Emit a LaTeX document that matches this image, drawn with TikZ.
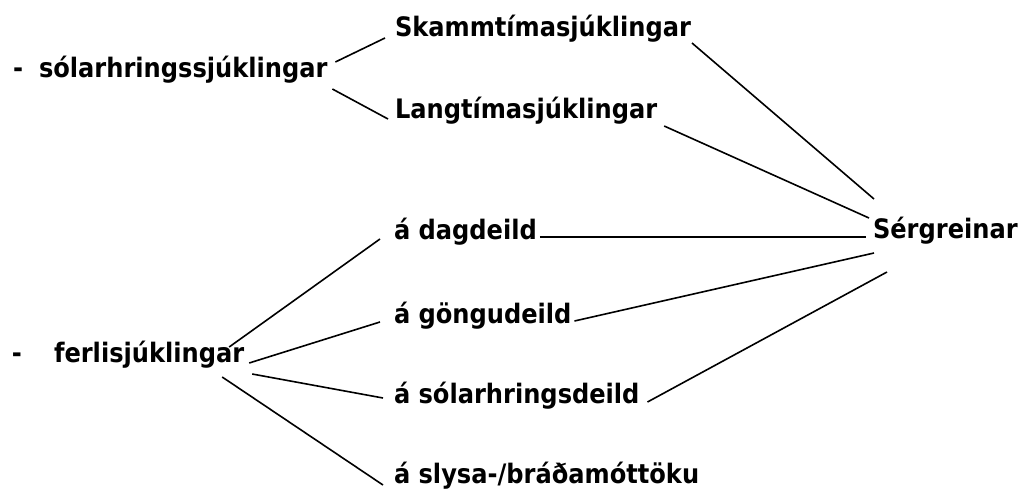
\documentclass[tikz,border=0pt]{standalone}
\usepackage{fontspec}
\newfontfamily\labelfont{DejaVu Sans Condensed}
\usetikzlibrary{calc}

\begin{document}
\begin{tikzpicture}[x=1pt,y=-1pt,
  lbl/.style={anchor=base west,inner sep=0pt,outer sep=0pt,
              font=\labelfont\bfseries\fontsize{26.8}{30}\selectfont},
  link/.style={draw=black,line width=1.6pt}]
  \useasboundingbox (0,0) rectangle (1026,490);

  % patient groups
  \node[lbl] (S)  at (13,77)  {-\hspace{16pt}sólarhringssjúklingar};
  \node[lbl] (F)  at (12,362) {-\hspace{32pt}ferlisjúklingar};

  % inpatient branches
  \node[lbl] (Sk) at (395,36)  {Skammtímasjúklingar};
  \node[lbl] (La) at (395,118) {Langtímasjúklingar};

  % outpatient branches
  \node[lbl] (D)  at (394,239) {á dagdeild};
  \node[lbl] (G)  at (394,323) {á göngudeild};
  \node[lbl] (So) at (394,403) {á sólarhringsdeild};
  \node[lbl] (Sl) at (394,483) {á slysa-/bráðamóttöku};

  % specialities
  \node[lbl] (Se) at (873,238) {Sérgreinar};

  % connectors
  \draw[link] ($(S.base east)+(8,-15)$)  -- ($(Sk.base west)+(-10,2)$);
  \draw[link] ($(S.base east)+(5,12)$)   -- ($(La.base west)+(-7,1)$);

  \draw[link] ($(Sk.base east)+(1,7)$)   -- ($(Se.base west)+(1,-39)$);
  \draw[link] ($(La.base east)+(7,8)$)   -- ($(Se.base west)+(-4,-20)$);
  \draw[link] ($(D.base east)+(3,-2)$)   -- ($(Se.base west)+(-7,-1)$);
  \draw[link] ($(G.base east)+(3,-2)$)   -- ($(Se.base west)+(1,15)$);
  \draw[link] ($(So.base east)+(8,-1)$)  -- ($(Se.base west)+(14,34)$);

  \draw[link] ($(F.base east)+(-15,-15)$) -- ($(D.base west)+(-14,0)$);
  \draw[link] ($(F.base east)+(5,1)$)     -- ($(G.base west)+(-14,-1)$);
  \draw[link] ($(F.base east)+(8,12)$)    -- ($(So.base west)+(-11,-5)$);
  \draw[link] ($(F.base east)+(-22,15)$)  -- ($(Sl.base west)+(-11,2)$);
\end{tikzpicture}
\end{document}
